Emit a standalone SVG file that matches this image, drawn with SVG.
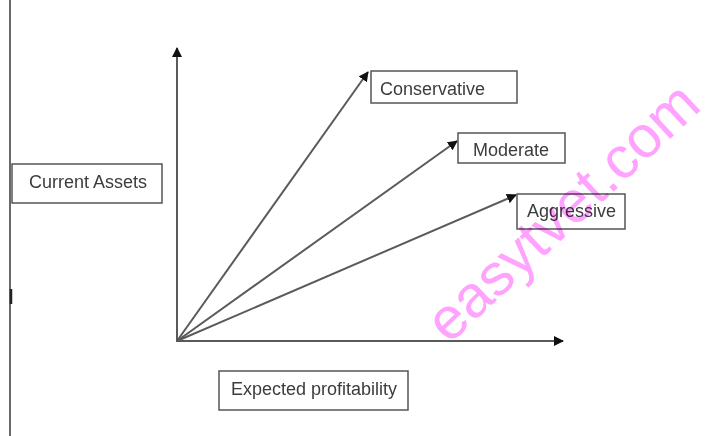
<svg xmlns="http://www.w3.org/2000/svg" width="719" height="436" viewBox="0 0 719 436">
  <style>
    .box { fill: #ffffff; stroke: #555555; stroke-width: 1.5; }
    .lbl { font-family: "Liberation Sans", Arial, sans-serif; font-size: 18px; fill: #3c3c3c; }
    .ax { stroke: #5a5a5a; stroke-width: 2; fill: none; }
    .mark { font-family: "Liberation Sans", Arial, sans-serif; font-size: 59px; fill: #ffa3ff; mix-blend-mode: multiply; }
  </style>
  <defs>
    <marker id="head" viewBox="0 0 10 10" refX="9" refY="5" markerWidth="5" markerHeight="5" orient="auto" markerUnits="strokeWidth">
      <path d="M0,0 L10,5 L0,10 z" fill="#111111"/>
    </marker>
  </defs>
  <rect width="719" height="436" fill="#ffffff"/>

  <!-- page margin rule -->
  <line x1="10" y1="0" x2="10" y2="436" stroke="#6a6a6a" stroke-width="2"/>
  <line x1="11" y1="289" x2="11" y2="304" stroke="#222222" stroke-width="2.5"/>

  <g id="connectors">
    <line class="ax" x1="177" y1="342" x2="177" y2="48" marker-end="url(#head)"/>
    <line class="ax" x1="176" y1="341" x2="563" y2="341" marker-end="url(#head)"/>
    <line class="ax" x1="177" y1="341" x2="368" y2="72" marker-end="url(#head)"/>
    <line class="ax" x1="177" y1="341" x2="457" y2="141" marker-end="url(#head)"/>
    <line class="ax" x1="177" y1="341" x2="516" y2="195" marker-end="url(#head)"/>
  </g>

  <g id="current-assets">
    <rect class="box" x="12" y="164" width="150" height="39"/>
    <text class="lbl" x="88" y="188" text-anchor="middle">Current Assets</text>
  </g>

  <g id="conservative">
    <rect class="box" x="371" y="71" width="146" height="32"/>
    <text class="lbl" x="380" y="95">Conservative</text>
  </g>

  <g id="moderate">
    <rect class="box" x="458" y="133" width="107" height="30"/>
    <text class="lbl" x="473" y="156">Moderate</text>
  </g>

  <g id="aggressive">
    <rect class="box" x="517" y="194" width="108" height="35"/>
    <text class="lbl" x="527" y="217">Aggressive</text>
  </g>

  <g id="expected-profitability">
    <rect class="box" x="219" y="371" width="189" height="39"/>
    <text class="lbl" x="314" y="395" text-anchor="middle">Expected profitability</text>
  </g>

  <text class="mark" transform="translate(449 345) rotate(-43)">easytvet.com</text>
</svg>
